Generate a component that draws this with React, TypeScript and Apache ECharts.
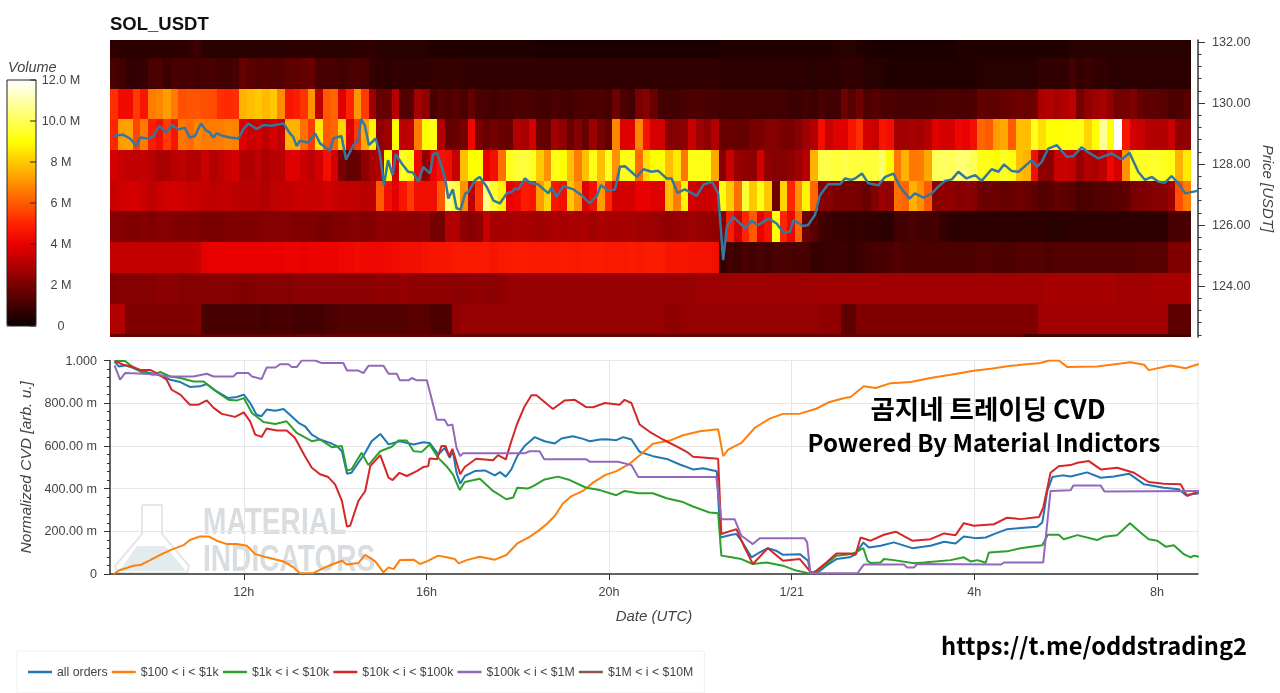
import * as echarts from 'echarts';
import { useEffect, useRef } from 'react';

// time is in hours since 1/20 00:00, volumes in millions
const hourMin = 9.07;
const hourMax = 32.9;
const binHours = 1 / 6;
const xTicks = [12, 16, 20, 24, 28, 32];
const xTickLabels = ['12h', '16h', '20h', '1/21', '4h', '8h'];
const priceTicks = [124, 126, 128, 130, 132];
const priceMinorTicks = [
  122.4, 122.8, 123.2, 123.6, 124.4, 124.8, 125.2, 125.6, 126.4, 126.8, 127.2, 127.6, 128.4, 128.8,
  129.2, 129.6, 130.4, 130.8, 131.2, 131.6,
];
const cvdTickLabels = ['0', '200.00 m', '400.00 m', '600.00 m', '800.00 m', '1.000'];
const volumeTicks = [0, 2, 4, 6, 8, 10, 12];
const volumeTickLabels = ['0', '2 M', '4 M', '6 M', '8 M', '10.0 M', '12.0 M'];
const hotColors = [
  '#0b0000', '#420000', '#7a0000', '#b20000', '#ea0000', '#ff2300', '#ff5a00', '#ff9200', '#ffc900',
  '#ffff04', '#ffff57', '#ffffab', '#ffffff',
];
const cvdNames = ['all orders', '$100 < i < $1k', '$1k < i < $10k', '$10k < i < $100k', '$100k < i < $1M', '$1M < i < $10M'];
const cvdColors = ['#1f77b4', '#ff7f0e', '#2ca02c', '#d62728', '#9467bd', '#8c564b'];

const vol132 = [
  0.6, 0.6, 0.6, 0.6, 0.6, 0.6, 0.6, 0.6, 0.6, 0.6, 0.7, 0.9, 0.6, 0.5, 0.5, 0.5, 0.5, 0.5, 0.5, 0.5,
  0.5, 0.5, 0.5, 0.6, 0.6, 0.6, 0.6, 0.5, 0.5, 0.5, 0.5, 0.5, 0.6, 0.6, 0.7, 0.5, 0.5, 0.5, 0.5, 0.5,
  0.5, 0.5, 0.4, 0.4, 0.4, 0.4, 0.4, 0.4, 0.4, 0.4, 0.4, 0.4, 0.4, 0.4, 0.4, 0.4, 0.3, 0.3, 0.3, 0.3,
  0.3, 0.3, 0.3, 0.3, 0.3, 0.3, 0.3, 0.3, 0.3, 0.3, 0.3, 0.3, 0.3, 0.3, 0.3, 0.3, 0.3, 0.3, 0.3, 0.3,
  0.4, 0.4, 0.4, 0.4, 0.4, 0.4, 0.4, 0.4, 0.4, 0.4, 0.4, 0.4, 0.4, 0.4, 0.4, 0.5, 0.5, 0.5, 0.4, 0.4,
  0.3, 0.3, 0.3, 0.3, 0.3, 0.3, 0.3, 0.3, 0.3, 0.3, 0.3, 0.4, 0.4, 0.4, 0.4, 0.4, 0.4, 0.4, 0.4, 0.4,
  0.4, 0.4, 0.4, 0.4, 0.4, 0.4, 0.5, 0.5, 0.5, 0.5, 0.5, 0.5, 0.5, 0.5, 0.5, 0.5, 0.5, 0.5, 0.5, 0.5,
  0.5, 0.5,
];
const vol131 = [
  1.1, 1.0, 0.7, 0.7, 0.8, 1.1, 1.2, 0.9, 1.1, 1.1, 1.1, 1.0, 1.1, 1.1, 1.0, 1.0, 1.1, 1.6, 1.4, 1.3,
  1.4, 1.3, 1.3, 1.5, 1.5, 1.6, 1.7, 1.1, 1.1, 1.1, 1.0, 1.1, 1.2, 1.1, 0.8, 0.7, 0.6, 0.7, 0.7, 0.7,
  0.7, 0.7, 0.8, 0.7, 0.8, 0.8, 0.7, 0.7, 0.7, 0.7, 0.7, 0.7, 0.7, 0.7, 0.7, 0.7, 0.7, 0.7, 0.7, 0.7,
  0.7, 0.7, 0.7, 0.7, 0.7, 0.7, 0.7, 0.7, 0.7, 0.7, 0.7, 0.7, 0.7, 0.7, 0.7, 0.7, 0.7, 0.7, 0.7, 0.7,
  0.6, 0.6, 0.6, 0.6, 0.6, 0.6, 0.6, 0.6, 0.6, 0.6, 0.6, 0.6, 0.5, 0.6, 0.6, 0.6, 0.7, 0.7, 0.7, 0.5,
  0.5, 0.5, 0.4, 0.4, 0.4, 0.4, 0.4, 0.4, 0.4, 0.4, 0.4, 0.4, 0.4, 0.4, 0.5, 0.5, 0.5, 0.5, 0.5, 0.5,
  0.5, 0.5, 0.7, 0.7, 0.7, 0.7, 1.0, 0.7, 0.9, 0.7, 0.7, 0.6, 0.6, 0.6, 0.6, 0.6, 0.6, 0.6, 0.6, 0.6,
  0.6, 0.6,
];
const vol130 = [
  5.2, 4.3, 4.3, 5.4, 4.6, 6.6, 6.8, 7.2, 6.6, 5.8, 5.9, 5.9, 5.8, 5.7, 5.2, 5.1, 5.2, 7.6, 7.8, 8.0,
  7.7, 8.0, 6.9, 4.6, 4.8, 5.3, 7.0, 3.2, 6.0, 6.2, 3.8, 5.0, 7.1, 5.4, 2.6, 1.6, 1.6, 3.1, 1.3, 1.3,
  2.8, 2.4, 1.1, 1.4, 1.2, 1.4, 1.1, 1.6, 1.2, 1.1, 1.0, 1.1, 1.1, 1.2, 1.2, 1.1, 1.0, 1.0, 1.2, 1.0,
  1.0, 1.1, 1.2, 1.1, 1.2, 1.0, 1.8, 1.2, 1.0, 2.0, 2.2, 1.7, 1.0, 1.0, 1.0, 1.1, 1.2, 1.2, 1.1, 1.1,
  1.0, 1.0, 1.0, 1.0, 1.0, 1.0, 1.0, 1.0, 1.0, 0.9, 0.9, 1.0, 0.9, 1.1, 1.0, 1.0, 1.8, 1.4, 1.8, 1.2,
  1.4, 1.2, 1.2, 1.1, 1.1, 1.1, 1.1, 1.1, 1.1, 1.2, 1.2, 1.1, 1.1, 1.2, 1.6, 1.5, 1.5, 1.6, 1.7, 1.8,
  1.7, 1.8, 2.9, 3.0, 2.8, 3.0, 3.2, 1.9, 2.4, 2.6, 2.8, 2.4, 1.9, 1.9, 2.1, 1.6, 1.5, 1.5, 1.4, 1.2,
  1.2, 1.4,
];
const vol129 = [
  5.0, 7.2, 7.3, 5.6, 6.6, 4.8, 4.4, 5.4, 4.6, 6.5, 6.3, 6.8, 6.6, 6.6, 6.6, 6.8, 6.7, 3.8, 3.4, 3.6,
  3.2, 3.6, 3.2, 7.6, 7.6, 6.4, 5.4, 8.6, 6.0, 6.2, 8.2, 3.8, 5.4, 7.4, 8.8, 2.4, 2.6, 9.0, 3.2, 3.2,
  6.6, 9.0, 9.2, 3.0, 1.6, 1.7, 1.9, 4.2, 2.0, 1.6, 1.9, 1.7, 1.7, 3.0, 2.8, 3.6, 1.7, 1.6, 2.7, 2.4,
  1.7, 2.2, 1.6, 2.6, 1.9, 1.6, 6.8, 3.8, 3.8, 6.8, 4.5, 3.6, 3.6, 2.2, 2.2, 2.4, 3.4, 2.6, 2.4, 3.0,
  1.7, 1.7, 1.6, 1.6, 2.0, 2.0, 2.2, 2.2, 2.0, 2.0, 2.2, 2.6, 3.0, 4.4, 3.4, 3.8, 3.8, 4.6, 5.2, 3.6,
  3.4, 4.6, 4.4, 2.7, 2.7, 2.8, 2.7, 3.0, 3.8, 3.6, 3.6, 4.2, 4.0, 4.4, 6.2, 6.0, 7.2, 7.4, 6.0, 7.8,
  7.8, 9.3, 8.4, 9.0, 9.0, 9.1, 9.1, 9.2, 8.2, 9.0, 10.8, 9.0, 12.0, 4.6, 3.6, 3.4, 3.0, 3.0, 3.0, 3.4,
  2.4, 2.4,
];
const vol128 = [
  3.6, 3.4, 3.3, 3.2, 3.3, 3.1, 2.8, 2.9, 3.1, 3.2, 3.0, 3.0, 3.4, 3.0, 3.2, 3.4, 3.6, 3.0, 3.0, 3.2,
  2.9, 3.1, 3.1, 3.8, 3.8, 3.4, 3.2, 3.6, 4.4, 3.6, 2.0, 1.6, 1.7, 2.4, 2.8, 3.0, 9.0, 3.6, 9.4, 9.0,
  4.2, 2.4, 4.0, 4.5, 4.4, 3.4, 7.8, 9.0, 9.0, 4.0, 4.4, 6.4, 9.3, 9.6, 9.7, 9.4, 8.0, 7.0, 9.2, 9.0,
  7.8, 6.6, 7.8, 9.2, 7.8, 9.3, 7.0, 9.2, 9.2, 6.3, 8.4, 9.0, 9.0, 7.8, 8.6, 6.5, 9.2, 9.2, 9.2, 7.4,
  2.2, 3.4, 2.5, 2.4, 2.3, 3.6, 2.4, 2.2, 2.2, 2.4, 2.6, 3.0, 7.6, 9.8, 9.8, 9.6, 9.9, 9.7, 9.7, 9.6,
  9.7, 10.2, 8.9, 6.5, 7.6, 6.5, 6.6, 7.4, 10.0, 10.1, 10.0, 10.3, 10.3, 10.0, 9.2, 9.1, 8.9, 9.4, 9.1, 7.8,
  7.6, 4.4, 2.4, 2.3, 3.4, 3.4, 3.3, 2.5, 3.0, 2.9, 3.2, 4.2, 3.6, 7.0, 9.3, 9.4, 9.4, 9.5, 9.3, 9.2,
  7.6, 8.6,
];
const vol127 = [
  3.4, 3.5, 3.6, 3.6, 3.4, 3.2, 3.4, 3.5, 3.6, 3.5, 3.4, 3.4, 3.3, 3.2, 3.3, 3.3, 3.2, 3.1, 3.1, 3.1,
  3.0, 3.2, 3.3, 3.3, 3.4, 3.4, 3.4, 3.4, 3.5, 3.4, 3.3, 3.3, 3.2, 3.1, 3.2, 6.0, 4.4, 3.9, 4.6, 5.4,
  4.4, 4.4, 4.4, 6.0, 10.4, 9.8, 7.0, 3.2, 5.4, 10.6, 9.6, 8.8, 4.0, 4.2, 4.8, 4.6, 7.2, 8.2, 4.6, 4.4,
  8.0, 7.0, 3.8, 4.4, 7.2, 5.0, 3.6, 3.6, 3.6, 4.0, 4.0, 3.8, 3.8, 7.8, 6.6, 8.8, 3.6, 3.4, 3.4, 3.6,
  9.2, 8.0, 6.4, 9.6, 8.0, 9.2, 8.0, 1.8, 8.2, 5.0, 7.0, 8.8, 6.2, 2.2, 2.2, 2.0, 2.0, 2.0, 1.9, 1.7,
  2.2, 2.6, 2.4, 6.4, 6.2, 7.6, 7.0, 6.0, 2.3, 2.4, 2.4, 2.2, 2.3, 2.2, 1.8, 1.7, 1.8, 1.6, 1.7, 1.8,
  1.7, 1.5, 1.3, 1.4, 1.6, 1.5, 1.4, 1.1, 1.2, 1.3, 1.3, 1.4, 1.4, 1.5, 1.9, 2.1, 2.1, 2.2, 2.2, 2.6,
  5.8, 6.6,
];
const vol126 = [
  2.2, 2.2, 2.1, 2.1, 2.2, 2.1, 2.2, 2.2, 2.1, 2.1, 2.1, 2.1, 2.0, 2.0, 2.0, 2.1, 2.1, 2.1, 2.1, 2.1,
  2.2, 2.2, 2.2, 2.2, 2.1, 2.1, 2.1, 2.0, 2.0, 2.1, 2.1, 2.2, 2.2, 2.1, 2.2, 2.4, 2.4, 2.4, 2.4, 2.4,
  2.3, 2.4, 1.9, 1.9, 3.0, 3.0, 2.4, 2.2, 2.4, 3.4, 2.8, 2.8, 2.8, 2.9, 2.8, 2.8, 2.7, 2.8, 2.9, 2.8,
  2.9, 2.8, 2.9, 2.7, 2.9, 2.8, 2.8, 2.8, 2.8, 2.7, 2.7, 2.6, 2.5, 2.4, 2.5, 2.5, 2.6, 2.5, 2.5, 2.4,
  2.2, 4.8, 3.6, 5.0, 6.0, 4.0, 4.6, 9.0, 5.0, 4.2, 6.2, 1.8, 1.4, 1.0, 0.9, 0.8, 0.8, 0.7, 0.8, 0.7,
  0.7, 0.6, 0.6, 1.0, 1.0, 1.1, 1.0, 1.0, 1.0, 0.8, 0.6, 0.6, 0.6, 0.6, 0.6, 0.6, 0.6, 0.6, 0.6, 0.6,
  0.6, 0.6, 0.6, 0.5, 0.5, 0.6, 0.6, 0.6, 0.6, 0.6, 0.6, 0.6, 0.6, 0.6, 0.6, 0.6, 0.6, 0.6, 0.6, 1.1,
  1.1, 1.1,
];
const vol125 = [
  3.3, 3.3, 3.3, 3.3, 3.3, 3.3, 3.3, 3.3, 3.3, 3.3, 3.3, 3.4, 3.9, 4.0, 4.0, 4.0, 4.0, 4.0, 4.0, 4.0,
  4.0, 4.0, 4.0, 4.1, 4.1, 4.0, 4.1, 4.1, 4.1, 4.1, 4.2, 4.2, 4.3, 4.2, 4.2, 4.2, 4.3, 4.3, 4.4, 4.4,
  4.4, 4.5, 4.6, 4.6, 4.6, 4.7, 4.7, 4.7, 4.7, 4.7, 4.6, 4.7, 4.7, 4.8, 4.8, 4.7, 4.7, 4.7, 4.7, 4.8,
  4.7, 4.7, 4.8, 4.8, 4.8, 4.7, 4.7, 4.7, 4.8, 4.7, 4.8, 4.8, 4.8, 4.6, 4.6, 4.6, 4.5, 4.5, 4.5, 4.4,
  0.8, 1.0, 0.9, 1.1, 1.0, 1.1, 1.0, 1.1, 1.2, 1.1, 1.1, 1.1, 0.8, 0.8, 0.9, 0.9, 0.9, 0.8, 0.9, 1.0,
  1.1, 1.1, 1.2, 1.3, 1.2, 1.2, 1.2, 1.2, 1.2, 1.2, 1.2, 1.2, 1.2, 1.2, 1.3, 1.3, 1.2, 1.2, 1.2, 1.3,
  1.3, 1.3, 1.3, 1.2, 1.3, 1.3, 1.3, 1.3, 1.3, 1.3, 1.3, 1.3, 1.3, 1.3, 1.3, 1.4, 1.4, 1.4, 1.4, 2.1,
  2.1, 2.1,
];
const vol124 = [
  2.1, 2.2, 2.2, 2.2, 2.2, 2.2, 2.3, 2.3, 2.3, 2.2, 2.2, 2.2, 2.2, 2.2, 2.2, 2.2, 2.2, 2.1, 2.1, 2.2,
  2.2, 2.2, 2.2, 2.2, 2.3, 2.3, 2.3, 2.3, 2.3, 2.3, 2.3, 2.3, 2.3, 2.3, 2.3, 2.4, 2.4, 2.4, 2.5, 2.4,
  2.4, 2.4, 2.4, 2.4, 2.4, 2.3, 2.3, 2.4, 2.4, 2.3, 2.3, 2.4, 2.5, 2.5, 2.5, 2.5, 2.5, 2.5, 2.5, 2.5,
  2.5, 2.5, 2.5, 2.5, 2.5, 2.5, 2.5, 2.5, 2.5, 2.5, 2.5, 2.5, 2.5, 2.5, 2.5, 2.5, 2.5, 2.6, 2.6, 2.6,
  2.6, 2.6, 2.6, 2.6, 2.6, 2.6, 2.6, 2.6, 2.6, 2.6, 2.6, 2.6, 2.6, 2.7, 2.7, 2.7, 2.7, 2.7, 2.7, 2.7,
  2.7, 2.7, 2.7, 2.7, 2.7, 2.7, 2.7, 2.7, 2.7, 2.7, 2.7, 2.7, 2.7, 2.7, 2.7, 2.7, 2.7, 2.7, 2.7, 2.7,
  2.7, 2.7, 2.7, 2.8, 2.8, 2.8, 2.8, 2.8, 2.8, 2.8, 2.8, 2.8, 2.7, 2.7, 2.7, 2.7, 2.7, 2.8, 2.8, 2.8,
  2.8, 2.8,
];
const vol123 = [
  3.0, 3.0, 2.1, 2.1, 2.1, 2.1, 2.1, 2.1, 2.1, 2.1, 2.1, 2.2, 1.1, 1.1, 1.1, 1.1, 1.1, 1.1, 1.1, 1.1,
  1.0, 1.1, 1.1, 1.1, 1.0, 1.0, 1.0, 1.0, 1.1, 1.2, 1.3, 1.3, 1.3, 1.3, 1.3, 1.3, 1.3, 1.3, 1.3, 1.4,
  1.4, 1.4, 1.2, 1.2, 1.2, 2.4, 2.5, 2.5, 2.5, 2.5, 2.5, 2.5, 2.5, 2.5, 2.5, 2.5, 2.5, 2.5, 2.5, 2.5,
  2.5, 2.5, 2.5, 2.5, 2.5, 2.5, 2.5, 2.5, 2.5, 2.5, 2.5, 2.5, 2.5, 2.4, 2.4, 2.5, 2.5, 2.5, 2.5, 2.5,
  2.5, 2.5, 2.5, 2.5, 2.5, 2.5, 2.5, 2.5, 2.5, 2.5, 2.5, 2.5, 2.5, 2.4, 2.4, 2.4, 1.5, 1.5, 2.1, 2.1,
  2.1, 2.1, 2.1, 2.1, 2.1, 2.1, 2.1, 2.1, 2.1, 2.1, 2.1, 2.1, 2.1, 2.1, 2.1, 2.1, 2.1, 2.1, 2.1, 2.1,
  2.1, 2.1, 2.7, 2.7, 2.7, 2.7, 2.7, 2.7, 2.7, 2.7, 2.7, 2.7, 2.7, 2.7, 2.7, 2.7, 2.7, 2.7, 2.7, 1.5,
  1.5, 1.5,
];
const vol122 = [
  1.6, 1.6, 1.6, 1.6, 1.6, 1.6, 1.6, 1.6, 1.6, 1.6, 1.6, 1.6, 1.6, 1.6, 1.6, 1.6, 1.6, 1.6, 1.6, 1.6,
  1.6, 1.6, 1.6, 1.6, 1.6, 1.6, 1.6, 1.6, 1.6, 1.6, 1.6, 1.6, 1.6, 1.6, 1.6, 1.6, 1.6, 1.6, 1.6, 1.6,
  1.6, 1.6, 1.6, 1.6, 1.6, 1.6, 1.6, 1.6, 1.6, 1.6, 1.6, 1.6, 1.6, 1.6, 1.6, 1.6, 1.6, 1.6, 1.6, 1.6,
  1.6, 1.6, 1.6, 1.6, 1.6, 1.6, 1.6, 1.6, 1.6, 1.6, 1.6, 1.6, 1.6, 1.6, 1.6, 1.6, 1.6, 1.6, 1.6, 1.6,
  1.6, 1.6, 1.6, 1.6, 1.6, 1.6, 1.6, 1.6, 1.6, 1.6, 1.6, 1.6, 1.6, 1.6, 1.6, 1.6, 1.6, 1.6, 1.6, 1.6,
  1.6, 1.6, 1.6, 1.6, 1.6, 1.6, 1.6, 1.6, 1.6, 1.6, 1.6, 1.6, 1.6, 1.6, 1.6, 1.6, 1.6, 1.6, 1.6, 1.6,
  1.0, 1.0, 1.0, 1.0, 1.0, 1.0, 1.0, 1.0, 1.0, 1.0, 1.0, 1.0, 1.0, 1.0, 1.0, 1.0, 1.0, 1.0, 1.0, 1.0,
  1.0, 1.0,
];
const priceEdges = [132.46, 131.47, 130.46, 129.47, 128.46, 127.45, 126.46, 125.44, 124.43, 123.41, 122.43, 121.43];
const volumeRows = [vol132, vol131, vol130, vol129, vol128, vol127, vol126, vol125, vol124, vol123, vol122];

const priceLine = [
  [9.16, 128.94], [9.36, 128.96], [9.51, 128.84], [9.65, 128.59], [9.73, 128.87], [9.91, 128.84], [10.02, 128.92],
  [10.15, 129.25], [10.31, 129.03], [10.42, 129.28], [10.57, 129.14], [10.71, 129.19], [10.82, 128.87], [10.93, 128.92],
  [11.06, 129.33], [11.17, 129.11], [11.26, 129.03], [11.33, 128.87], [11.41, 129.01], [11.55, 128.92], [11.7, 128.87],
  [11.88, 128.84], [11.99, 129.14], [12.1, 129.33], [12.28, 129.15], [12.43, 129.28], [12.61, 129.26], [12.87, 129.33],
  [13.01, 129.01], [13.08, 128.9], [13.16, 128.59], [13.23, 128.77], [13.41, 128.7], [13.56, 129.01], [13.67, 128.68],
  [13.89, 128.44], [13.96, 128.84], [14.14, 128.92], [14.24, 128.15], [14.4, 128.62], [14.51, 128.79], [14.57, 129.48],
  [14.65, 129.28], [14.74, 128.62], [14.89, 128.84], [14.98, 128.35], [15.07, 127.31], [15.16, 128.13], [15.26, 127.64],
  [15.33, 128.33], [15.46, 128.02], [15.6, 127.75], [15.71, 127.72], [15.82, 127.42], [15.93, 127.91], [16.08, 127.69],
  [16.15, 128.33], [16.23, 128.37], [16.3, 128.08], [16.41, 127.53], [16.48, 126.87], [16.58, 127.17], [16.66, 126.55],
  [16.75, 126.51], [16.85, 127.04], [16.92, 127.09], [17.07, 127.48], [17.17, 127.58], [17.32, 127.26], [17.47, 126.8],
  [17.61, 126.71], [17.76, 127.04], [17.87, 127.09], [17.94, 127.2], [18.01, 127.17], [18.16, 127.53], [18.27, 127.39],
  [18.45, 127.33], [18.67, 127.04], [18.74, 127.23], [18.85, 126.93], [19.0, 127.28], [19.22, 127.17], [19.4, 126.98],
  [19.57, 126.71], [19.73, 126.95], [19.82, 127.31], [19.99, 127.13], [20.13, 127.17], [20.24, 127.91], [20.35, 127.93],
  [20.61, 127.58], [20.75, 127.83], [20.93, 127.75], [21.08, 127.78], [21.26, 127.53], [21.37, 127.53], [21.5, 127.06],
  [21.66, 127.17], [21.92, 126.96], [22.07, 127.33], [22.26, 127.42], [22.39, 127.04], [22.5, 124.85], [22.58, 125.95],
  [22.72, 126.27], [22.98, 125.89], [23.12, 126.14], [23.27, 126.0], [23.49, 126.22], [23.67, 126.05], [23.82, 125.75],
  [23.96, 125.78], [24.04, 126.16], [24.26, 125.97], [24.36, 126.0], [24.51, 126.33], [24.62, 126.98], [24.8, 127.34],
  [25.06, 127.34], [25.17, 127.53], [25.31, 127.48], [25.39, 127.53], [25.54, 127.69], [25.68, 127.37], [25.9, 127.31],
  [26.05, 127.58], [26.23, 127.69], [26.37, 127.26], [26.58, 126.87], [26.7, 127.04], [26.89, 126.9], [27.07, 127.04],
  [27.21, 127.26], [27.36, 127.45], [27.51, 127.5], [27.65, 127.75], [27.83, 127.53], [28.02, 127.64], [28.16, 127.45],
  [28.38, 127.83], [28.53, 127.75], [28.65, 127.99], [28.82, 127.77], [28.97, 127.75], [29.26, 128.13], [29.37, 127.91],
  [29.48, 128.08], [29.62, 128.51], [29.81, 128.62], [30.02, 128.24], [30.17, 128.26], [30.35, 128.55], [30.5, 128.38],
  [30.72, 128.19], [31.01, 128.35], [31.23, 128.15], [31.4, 128.37], [31.59, 127.75], [31.74, 127.48], [31.89, 127.58],
  [32.03, 127.42], [32.18, 127.39], [32.32, 127.61], [32.47, 127.37], [32.62, 127.04], [32.91, 127.13],
];

const cvdAll = [
  [9.17, 0.995], [9.26, 0.972], [9.4, 0.977], [9.55, 0.967], [9.73, 0.952], [9.95, 0.941], [10.17, 0.93], [10.39, 0.91],
  [10.61, 0.899], [10.82, 0.876], [11.04, 0.879], [11.19, 0.89], [11.41, 0.855], [11.66, 0.824], [11.85, 0.829], [12.0, 0.84],
  [12.14, 0.801], [12.28, 0.746], [12.39, 0.739], [12.5, 0.77], [12.69, 0.765], [12.87, 0.773], [13.01, 0.746], [13.2, 0.708],
  [13.34, 0.692], [13.49, 0.653], [13.67, 0.63], [13.89, 0.614], [14.04, 0.599], [14.15, 0.575], [14.26, 0.47], [14.36, 0.474],
  [14.51, 0.521], [14.66, 0.568], [14.8, 0.622], [14.99, 0.656], [15.17, 0.607], [15.42, 0.622], [15.72, 0.607], [15.93, 0.617],
  [16.07, 0.614], [16.26, 0.56], [16.4, 0.591], [16.51, 0.544], [16.58, 0.575], [16.66, 0.474], [16.74, 0.423], [16.84, 0.459],
  [17.06, 0.482], [17.28, 0.485], [17.5, 0.462], [17.61, 0.477], [17.74, 0.456], [17.86, 0.49], [17.99, 0.552], [18.15, 0.599],
  [18.37, 0.641], [18.59, 0.622], [18.81, 0.611], [18.96, 0.635], [19.21, 0.645], [19.43, 0.633], [19.58, 0.622], [19.8, 0.63],
  [19.94, 0.631], [20.16, 0.627], [20.31, 0.641], [20.49, 0.63], [20.67, 0.572], [20.96, 0.552], [21.29, 0.537], [21.55, 0.513],
  [21.84, 0.49], [22.06, 0.495], [22.36, 0.481], [22.44, 0.171], [22.68, 0.184], [22.79, 0.187], [22.9, 0.156], [23.12, 0.078],
  [23.3, 0.101], [23.48, 0.121], [23.66, 0.109], [23.81, 0.09], [24.18, 0.093], [24.36, 0.062], [24.41, 0.003], [24.58, 0.008],
  [24.76, 0.039], [24.98, 0.07], [25.27, 0.078], [25.4, 0.093], [25.57, 0.148], [25.69, 0.124], [25.95, 0.132], [26.24, 0.148],
  [26.64, 0.121], [27.04, 0.132], [27.34, 0.151], [27.59, 0.143], [27.77, 0.176], [28.03, 0.168], [28.25, 0.171], [28.43, 0.187],
  [28.72, 0.21], [29.01, 0.215], [29.38, 0.221], [29.49, 0.241], [29.6, 0.389], [29.71, 0.454], [29.93, 0.462], [30.11, 0.457],
  [30.47, 0.476], [30.77, 0.451], [31.06, 0.457], [31.39, 0.47], [31.72, 0.42], [32.15, 0.404], [32.48, 0.397], [32.63, 0.37],
  [32.77, 0.373], [32.92, 0.378],
];
const cvd100 = [
  [9.15, 0.0], [9.29, 0.019], [9.44, 0.028], [9.58, 0.039], [9.73, 0.042], [9.95, 0.065], [10.17, 0.09], [10.39, 0.112],
  [10.68, 0.135], [10.82, 0.159], [11.04, 0.176], [11.23, 0.176], [11.41, 0.156], [11.63, 0.14], [11.85, 0.14], [12.07, 0.132],
  [12.25, 0.093], [12.5, 0.078], [12.87, 0.059], [13.09, 0.031], [13.23, 0.003], [13.53, 0.005], [13.78, 0.031], [13.96, 0.047],
  [14.15, 0.062], [14.26, 0.044], [14.51, 0.051], [14.66, 0.09], [14.88, 0.059], [15.06, 0.008], [15.17, 0.031], [15.28, 0.023],
  [15.42, 0.065], [15.72, 0.067], [15.86, 0.047], [16.01, 0.059], [16.26, 0.086], [16.44, 0.078], [16.62, 0.07], [16.71, 0.05],
  [16.88, 0.065], [17.17, 0.081], [17.5, 0.067], [17.75, 0.089], [17.99, 0.143], [18.26, 0.174], [18.45, 0.202], [18.63, 0.233],
  [18.81, 0.272], [18.99, 0.33], [19.18, 0.365], [19.43, 0.389], [19.65, 0.428], [19.91, 0.463], [20.16, 0.482], [20.45, 0.516],
  [20.74, 0.568], [20.96, 0.61], [21.33, 0.625], [21.62, 0.65], [21.99, 0.669], [22.39, 0.678], [22.5, 0.552], [22.61, 0.583],
  [22.9, 0.614], [23.19, 0.684], [23.52, 0.728], [23.81, 0.75], [24.18, 0.751], [24.54, 0.774], [24.83, 0.806], [25.16, 0.824],
  [25.29, 0.829], [25.58, 0.879], [25.84, 0.871], [26.17, 0.894], [26.61, 0.899], [27.04, 0.918], [27.48, 0.933], [27.99, 0.952],
  [28.36, 0.961], [28.8, 0.975], [29.45, 0.988], [29.64, 1.0], [29.85, 1.0], [30.04, 0.969], [30.69, 0.972], [31.13, 0.984],
  [31.42, 0.992], [31.72, 0.98], [31.82, 0.955], [32.3, 0.977], [32.63, 0.964], [32.92, 0.984],
];
const cvd1k = [
  [9.17, 0.998], [9.4, 0.998], [9.58, 0.967], [9.8, 0.941], [10.02, 0.933], [10.17, 0.946], [10.39, 0.925], [10.61, 0.918],
  [10.9, 0.902], [11.12, 0.902], [11.34, 0.863], [11.66, 0.816], [11.85, 0.813], [12.0, 0.824], [12.18, 0.754], [12.43, 0.712],
  [12.69, 0.703], [12.94, 0.715], [13.16, 0.661], [13.49, 0.622], [13.67, 0.63], [13.93, 0.594], [14.15, 0.599], [14.26, 0.485],
  [14.36, 0.49], [14.58, 0.568], [14.73, 0.51], [14.99, 0.575], [15.24, 0.596], [15.39, 0.625], [15.57, 0.625], [15.72, 0.575],
  [15.9, 0.572], [16.07, 0.607], [16.26, 0.544], [16.44, 0.505], [16.58, 0.467], [16.73, 0.393], [16.84, 0.431], [17.17, 0.446],
  [17.46, 0.389], [17.75, 0.35], [17.9, 0.358], [17.99, 0.404], [18.23, 0.401], [18.34, 0.412], [18.59, 0.443], [18.88, 0.456],
  [19.14, 0.44], [19.5, 0.404], [19.8, 0.393], [20.16, 0.369], [20.34, 0.389], [20.64, 0.378], [20.96, 0.378], [21.26, 0.355],
  [21.62, 0.337], [21.84, 0.316], [22.2, 0.288], [22.39, 0.285], [22.46, 0.086], [22.68, 0.078], [22.9, 0.07], [23.15, 0.047],
  [23.45, 0.054], [23.81, 0.039], [24.1, 0.016], [24.39, 0.003], [24.58, 0.016], [24.8, 0.054], [24.98, 0.086], [25.27, 0.093],
  [25.4, 0.101], [25.57, 0.121], [25.66, 0.062], [25.73, 0.051], [25.95, 0.054], [26.02, 0.07], [26.24, 0.065], [26.68, 0.05],
  [26.9, 0.054], [27.48, 0.065], [27.77, 0.078], [27.92, 0.059], [28.07, 0.065], [28.25, 0.053], [28.32, 0.101], [28.72, 0.106],
  [29.01, 0.121], [29.49, 0.135], [29.61, 0.184], [29.85, 0.184], [29.96, 0.163], [30.26, 0.182], [30.69, 0.159], [30.84, 0.174],
  [31.13, 0.182], [31.41, 0.238], [31.64, 0.194], [31.82, 0.163], [32.01, 0.156], [32.19, 0.128], [32.37, 0.135], [32.59, 0.093],
  [32.74, 0.078], [32.81, 0.086], [32.92, 0.081],
];
const cvd10k = [
  [9.17, 0.998], [9.36, 0.98], [9.55, 0.972], [9.73, 0.956], [9.95, 0.956], [10.09, 0.941], [10.31, 0.91], [10.42, 0.863],
  [10.61, 0.84], [10.82, 0.793], [11.01, 0.793], [11.19, 0.813], [11.34, 0.778], [11.52, 0.75], [11.81, 0.736], [12.0, 0.757],
  [12.14, 0.715], [12.25, 0.653], [12.39, 0.642], [12.5, 0.681], [12.72, 0.672], [12.94, 0.672], [13.12, 0.638], [13.34, 0.552],
  [13.49, 0.498], [13.67, 0.467], [13.85, 0.454], [14.0, 0.42], [14.15, 0.342], [14.26, 0.222], [14.33, 0.226], [14.51, 0.342],
  [14.66, 0.389], [14.77, 0.505], [14.99, 0.557], [15.17, 0.451], [15.26, 0.44], [15.41, 0.474], [15.57, 0.459], [15.79, 0.482],
  [15.93, 0.501], [16.04, 0.505], [16.07, 0.541], [16.23, 0.537], [16.33, 0.599], [16.42, 0.599], [16.5, 0.552], [16.57, 0.586],
  [16.74, 0.467], [16.84, 0.501], [17.09, 0.54], [17.46, 0.533], [17.57, 0.557], [17.74, 0.537], [17.86, 0.622], [17.99, 0.705],
  [18.15, 0.785], [18.3, 0.837], [18.41, 0.837], [18.77, 0.773], [19.03, 0.813], [19.25, 0.816], [19.5, 0.782], [19.65, 0.781],
  [19.91, 0.801], [20.23, 0.793], [20.34, 0.816], [20.49, 0.801], [20.67, 0.7], [20.89, 0.666], [21.18, 0.63], [21.51, 0.594],
  [21.73, 0.568], [21.84, 0.549], [22.39, 0.54], [22.46, 0.187], [22.79, 0.21], [22.97, 0.124], [23.15, 0.047], [23.48, 0.121],
  [23.81, 0.062], [24.18, 0.07], [24.39, 0.016], [24.47, 0.003], [24.76, 0.054], [24.98, 0.096], [25.27, 0.096], [25.4, 0.09],
  [25.51, 0.171], [25.73, 0.156], [26.02, 0.184], [26.28, 0.198], [26.64, 0.156], [27.04, 0.163], [27.34, 0.19], [27.59, 0.182],
  [27.77, 0.238], [27.99, 0.226], [28.43, 0.233], [28.72, 0.264], [29.01, 0.257], [29.42, 0.267], [29.51, 0.311], [29.67, 0.474],
  [29.85, 0.505], [30.11, 0.51], [30.26, 0.521], [30.51, 0.529], [30.77, 0.49], [31.13, 0.498], [31.5, 0.474], [31.82, 0.431],
  [32.15, 0.423], [32.52, 0.42], [32.66, 0.365], [32.92, 0.389],
];
const cvd100k = [
  [9.17, 0.977], [9.29, 0.91], [9.4, 0.941], [10.09, 0.936], [10.31, 0.925], [10.9, 0.925], [11.19, 0.938], [11.34, 0.925],
  [11.77, 0.925], [11.85, 0.941], [12.1, 0.941], [12.18, 0.925], [12.39, 0.913], [12.5, 0.967], [12.69, 0.967], [12.8, 0.983],
  [12.98, 0.983], [13.05, 0.969], [13.16, 0.969], [13.27, 1.0], [13.56, 1.0], [13.71, 0.988], [14.18, 0.988], [14.26, 0.953],
  [14.51, 0.953], [14.62, 0.941], [14.73, 0.975], [15.06, 0.975], [15.17, 0.938], [15.35, 0.938], [15.42, 0.907], [15.61, 0.907],
  [15.68, 0.918], [15.79, 0.907], [16.01, 0.907], [16.12, 0.816], [16.23, 0.723], [16.4, 0.723], [16.47, 0.695], [16.57, 0.7],
  [16.66, 0.591], [16.74, 0.552], [16.8, 0.565], [18.15, 0.565], [18.26, 0.575], [18.48, 0.575], [18.58, 0.537], [19.5, 0.537],
  [19.58, 0.526], [20.2, 0.526], [20.49, 0.51], [20.64, 0.454], [22.35, 0.454], [22.46, 0.257], [22.75, 0.257], [22.9, 0.179],
  [23.15, 0.14], [23.3, 0.168], [24.28, 0.168], [24.34, 0.148], [24.41, 0.003], [25.44, 0.003], [25.58, 0.044], [26.46, 0.044],
  [26.53, 0.031], [26.68, 0.031], [26.75, 0.047], [28.58, 0.044], [28.65, 0.054], [29.51, 0.054], [29.67, 0.389], [30.11, 0.392],
  [30.17, 0.414], [30.77, 0.414], [30.85, 0.386], [32.92, 0.389],
];
const cvd1m: number[][] = [];
const cvdSeries = [cvdAll, cvd100, cvd1k, cvd10k, cvd100k, cvd1m];

const axisFont = 'Liberation Sans, Arial, sans-serif';
const axisGrey = '#444444';
const axisDark = '#333333';

export default function App() {
  const container = useRef<HTMLDivElement | null>(null);

  useEffect(() => {
    if (!container.current) return;
    document.body.style.margin = '0';
    const chart = echarts.init(container.current, undefined, { renderer: 'svg' });

    const cells: number[][] = [];
    volumeRows.forEach((row, r) => {
      row.forEach((v, c) => {
        cells.push([hourMin + c * binHours, priceEdges[r], v, priceEdges[r + 1]]);
      });
    });

    const renderCell = (params: any, api: any) => {
      const a = api.coord([api.value(0), api.value(1)]);
      const b = api.coord([api.value(0) + binHours, api.value(3)]);
      const x0 = Math.round(a[0]);
      const y0 = Math.round(a[1]);
      const rect = echarts.graphic.clipRectByRect(
        { x: x0, y: y0, width: Math.round(b[0]) - x0, height: Math.round(b[1]) - y0 },
        params.coordSys,
      );
      return rect && { type: 'rect', shape: rect, style: { fill: api.visual('color') } };
    };

    // colour bar ticks sit inside the bar, on its right edge
    const renderBarTick = (_params: any, api: any) => {
      const p = api.coord([1, api.value(0)]);
      return {
        type: 'line',
        shape: { x1: p[0] - 6, y1: p[1], x2: p[0], y2: p[1] },
        style: { stroke: '#222222', lineWidth: 1 },
      };
    };

    const xLabel = {
      customValues: xTicks,
      color: axisGrey,
      fontFamily: axisFont,
      fontSize: 12.6,
      margin: 11,
      formatter: (v: number) => xTickLabels[xTicks.indexOf(v)],
    };

    chart.setOption({
      animation: false,
      textStyle: { fontFamily: axisFont },
      title: {
        text: 'SOL_USDT',
        left: 110,
        top: 14,
        padding: 0,
        textStyle: { fontSize: 18.5, fontWeight: 'bold', color: '#111111', fontFamily: axisFont },
      },
      grid: [
        { left: 110, top: 40, width: 1088, height: 297, outerBoundsMode: 'none' },
        {
          left: 110,
          top: 360.5,
          width: 1088,
          height: 213.5,
          show: true,
          borderColor: '#e6e6e6',
          borderWidth: 1,
          outerBoundsMode: 'none',
        },
        { left: 7, top: 80, width: 29, height: 246, outerBoundsMode: 'none' },
      ],
      xAxis: [
        { type: 'value', gridIndex: 0, min: hourMin, max: hourMax, show: false },
        {
          type: 'value',
          gridIndex: 1,
          min: hourMin,
          max: hourMax,
          name: 'Date (UTC)',
          nameLocation: 'middle',
          nameGap: 34,
          nameTextStyle: { fontStyle: 'italic', fontSize: 15, color: axisGrey, fontFamily: axisFont },
          axisLine: { onZero: false, lineStyle: { color: axisDark, width: 1.5 } },
          axisTick: { customValues: xTicks, length: 6, lineStyle: { color: axisDark } },
          axisLabel: xLabel,
          splitLine: { show: true, lineStyle: { color: '#e6e6e6' } },
        },
        { type: 'value', gridIndex: 2, min: 0, max: 1, show: false },
      ],
      yAxis: [
        {
          type: 'value',
          gridIndex: 0,
          position: 'right',
          min: 122.33,
          max: 132.07,
          name: 'Price [USDT]',
          nameLocation: 'middle',
          nameRotate: -90,
          nameGap: 63,
          nameTextStyle: { fontStyle: 'italic', fontSize: 15, color: axisGrey, fontFamily: axisFont },
          axisLine: { show: true, onZero: false, lineStyle: { color: axisDark, width: 1.5 } },
          axisTick: { show: true, customValues: priceTicks, length: 7, lineStyle: { color: axisDark } },
          axisLabel: {
            customValues: priceTicks,
            color: axisGrey,
            fontSize: 12.6,
            fontFamily: axisFont,
            margin: 14,
            formatter: (v: number) => v.toFixed(2),
          },
          splitLine: { show: false },
        },
        {
          type: 'value',
          gridIndex: 0,
          position: 'right',
          min: 122.33,
          max: 132.07,
          axisLine: { show: false },
          axisTick: { show: true, customValues: priceMinorTicks, length: 3.5, lineStyle: { color: axisDark } },
          axisLabel: { show: false },
          splitLine: { show: false },
        },
        {
          type: 'value',
          gridIndex: 1,
          min: 0,
          max: 1,
          interval: 0.2,
          name: 'Normalized CVD [arb. u.]',
          nameLocation: 'middle',
          nameRotate: 90,
          nameGap: 67,
          nameTextStyle: { fontStyle: 'italic', fontSize: 15.5, color: axisGrey, fontFamily: axisFont },
          axisLine: { show: true, onZero: false, lineStyle: { color: axisDark, width: 1.5 } },
          axisTick: { show: true, length: 6, lineStyle: { color: axisDark } },
          minorTick: { show: true, splitNumber: 5, length: 3, lineStyle: { color: axisDark } },
          axisLabel: {
            color: axisGrey,
            fontSize: 12.6,
            fontFamily: axisFont,
            margin: 13,
            formatter: (v: number) => cvdTickLabels[Math.round(v * 5)],
          },
          splitLine: { show: true, lineStyle: { color: '#e6e6e6' } },
        },
        {
          type: 'value',
          gridIndex: 2,
          position: 'right',
          min: 0,
          max: 12,
          interval: 2,
          z: 10,
          axisLine: { show: false },
          axisTick: { show: false },
          axisLabel: {
            color: axisGrey,
            fontSize: 12.6,
            fontFamily: axisFont,
            align: 'center',
            margin: 25,
            formatter: (v: number) => volumeTickLabels[v / 2],
          },
          splitLine: { show: false },
        },
      ],
      visualMap: {
        type: 'continuous',
        seriesIndex: 0,
        dimension: 2,
        min: 0,
        max: 12,
        left: 7,
        top: 80,
        padding: 0,
        itemWidth: 29,
        itemHeight: 246,
        calculable: false,
        hoverLink: false,
        inRange: { color: hotColors },
      },
      legend: {
        left: 17,
        top: 651,
        width: 700,
        padding: [15, 11, 15, 11],
        itemGap: 4.2,
        itemWidth: 24,
        itemHeight: 2.5,
        icon: 'rect',
        selectedMode: false,
        backgroundColor: '#ffffff',
        borderColor: '#efefef',
        borderWidth: 1,
        data: cvdNames,
        textStyle: { fontSize: 12.3, color: axisGrey, fontFamily: axisFont },
      },
      graphic: [
        {
          type: 'rect',
          z: 20,
          shape: { x: 7, y: 80, width: 29, height: 246 },
          style: { fill: 'none', stroke: '#222222', lineWidth: 1 },
        },
        {
          type: 'text',
          x: 8,
          y: 59.5,
          style: { text: 'Volume', fontStyle: 'italic', fontSize: 14.5, fontFamily: axisFont, fill: axisGrey },
        },
        // watermark, drawn under the lines
        {
          type: 'polygon',
          z: -1,
          shape: { points: [[137, 546], [165, 546], [186, 571], [119, 571]] },
          style: { fill: '#e4ebef' },
        },
        {
          type: 'polyline',
          z: -1,
          shape: {
            points: [[142, 505], [162, 505], [162, 534], [189, 566], [187, 573], [118, 573], [115, 566], [142, 534], [142, 505]],
          },
          style: { stroke: '#e6e6e6', lineWidth: 2, fill: 'none' },
        },
        {
          type: 'text',
          z: -1,
          x: 203,
          y: 503,
          scaleX: 0.76,
          style: { text: 'MATERIAL', fontFamily: axisFont, fontWeight: 'bold', fontSize: 37, fill: '#dadde0' },
        },
        {
          type: 'text',
          z: -1,
          x: 203,
          y: 540,
          scaleX: 0.76,
          style: { text: 'INDICATORS', fontFamily: axisFont, fontWeight: 'bold', fontSize: 37, fill: '#dadde0' },
        },
        {
          type: 'text',
          z: 30,
          x: 988,
          y: 407,
          style: {
            text: '곰지네 트레이딩 CVD',
            align: 'center',
            verticalAlign: 'middle',
            fontFamily: 'Noto Sans CJK KR',
            fontWeight: 'bold',
            fontSize: 26.5,
            fill: '#000000',
          },
        },
        {
          type: 'text',
          z: 30,
          x: 984,
          y: 441,
          style: {
            text: 'Powered By Material Indictors',
            align: 'center',
            verticalAlign: 'middle',
            fontFamily: 'Noto Sans CJK KR',
            fontWeight: 'bold',
            fontSize: 24,
            fill: '#000000',
          },
        },
        {
          type: 'text',
          z: 30,
          x: 1094,
          y: 645,
          style: {
            text: 'https://t.me/oddstrading2',
            align: 'center',
            verticalAlign: 'middle',
            fontFamily: 'Noto Sans CJK KR',
            fontWeight: 'bold',
            fontSize: 23.7,
            fill: '#000000',
          },
        },
      ],
      series: [
        {
          type: 'custom',
          xAxisIndex: 0,
          yAxisIndex: 0,
          renderItem: renderCell,
          encode: { x: 0, y: 1 },
          data: cells,
          silent: true,
        },
        {
          type: 'line',
          name: 'Price',
          xAxisIndex: 0,
          yAxisIndex: 0,
          data: priceLine,
          showSymbol: false,
          z: 5,
          lineStyle: { color: '#35779f', width: 2.5 },
          silent: true,
        },
        ...cvdNames.map((name, i) => ({
          type: 'line',
          name,
          xAxisIndex: 1,
          yAxisIndex: 2,
          data: cvdSeries[i],
          showSymbol: false,
          color: cvdColors[i],
          lineStyle: { width: 2 },
          silent: true,
        })),
        {
          type: 'custom',
          xAxisIndex: 2,
          yAxisIndex: 3,
          renderItem: renderBarTick,
          encode: { y: 0 },
          data: volumeTicks.map((v) => [v]),
          z: 15,
          silent: true,
        },
      ],
    });

    return () => chart.dispose();
  }, []);

  return <div ref={container} style={{ position: 'fixed', left: 0, top: 0, width: 1280, height: 693 }} />;
}
